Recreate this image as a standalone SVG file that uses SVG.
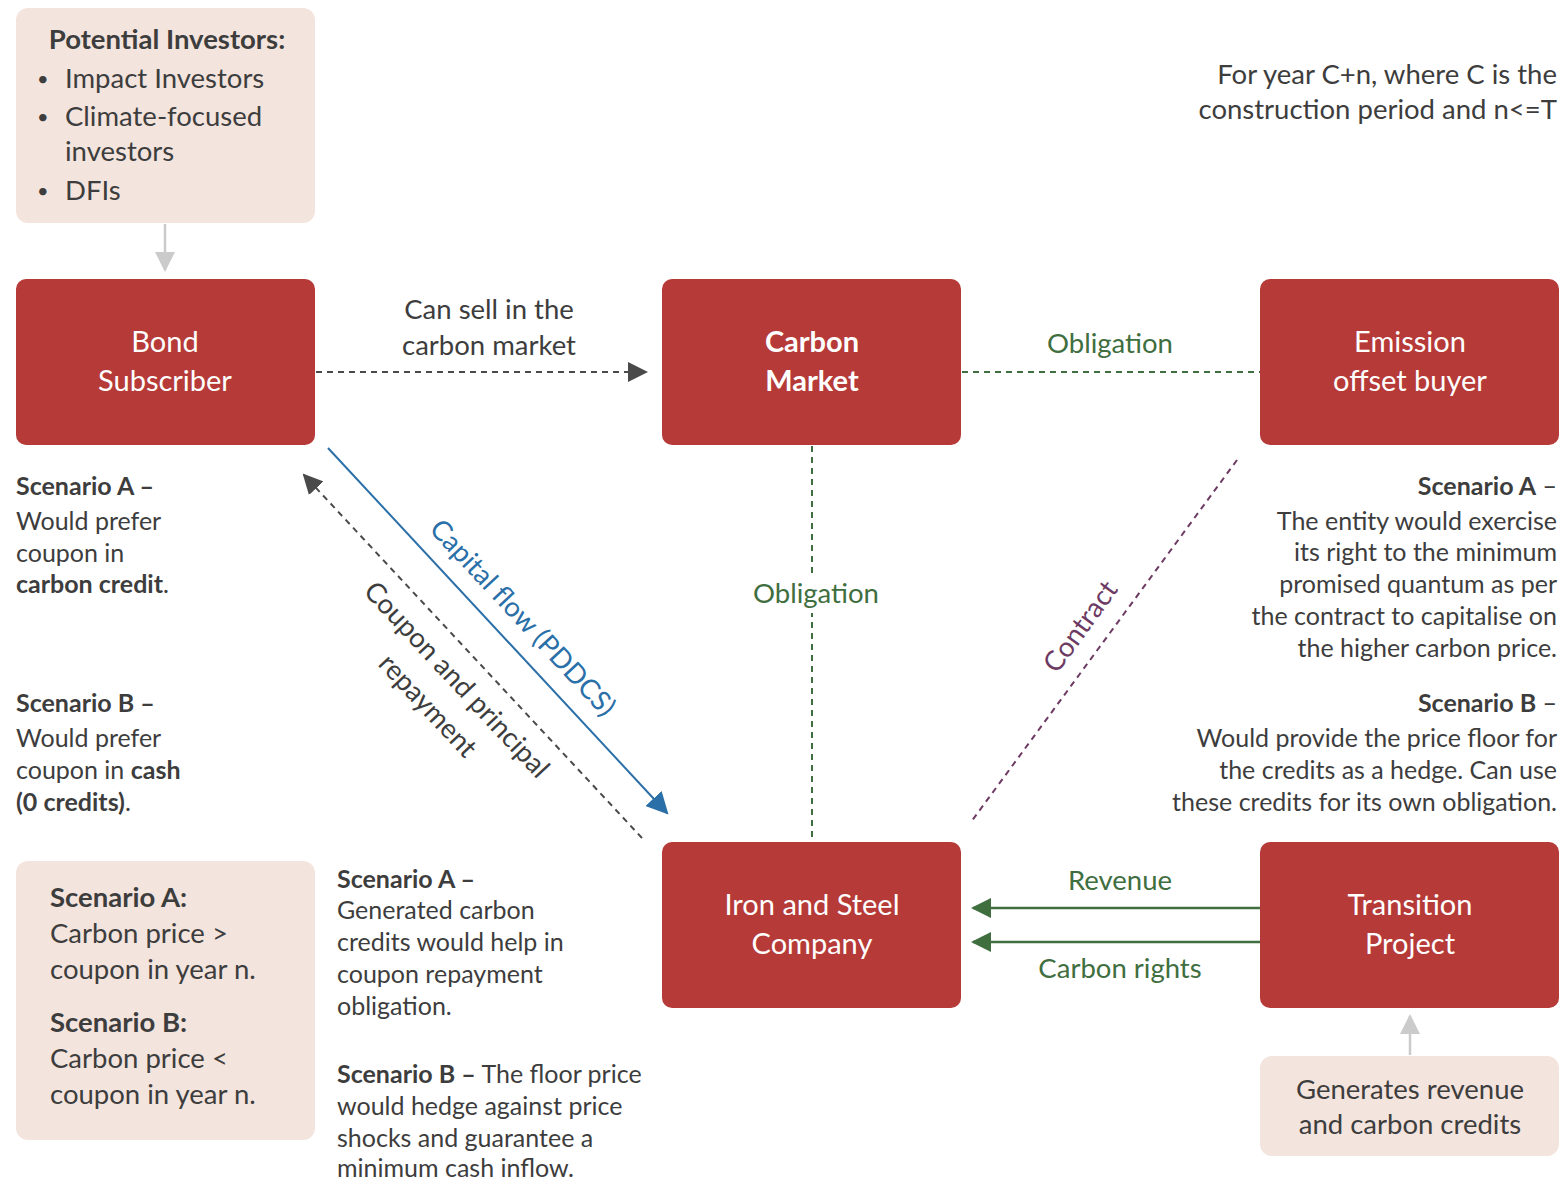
<svg xmlns="http://www.w3.org/2000/svg" width="1561" height="1179" viewBox="0 0 1561 1179">
<defs>
<style>
text{font-family:Lato,"Open Sans","Liberation Sans",sans-serif;fill:#3d3d3d}
.node{fill:#b53a38}
.note{fill:#f3e4de}
.nt{fill:#fff;font-size:29px;text-anchor:middle}
.b{font-weight:700}
.t27{font-size:27.5px}
.t25{font-size:25px}
.grn{fill:#3f6e3f}
.bul{font-size:20px}
</style>
<marker id="ag" viewBox="0 0 10 10" refX="9" refY="5" markerWidth="20" markerHeight="20" markerUnits="userSpaceOnUse" orient="auto"><path d="M0,0L10,5L0,10z" fill="#cbcbcb"/></marker>
<marker id="ad" viewBox="0 0 10 10" refX="9" refY="5" markerWidth="20" markerHeight="20" markerUnits="userSpaceOnUse" orient="auto"><path d="M0,0L10,5L0,10z" fill="#4a4a4a"/></marker>
<marker id="ab" viewBox="0 0 10 10" refX="9" refY="5" markerWidth="22" markerHeight="22" markerUnits="userSpaceOnUse" orient="auto"><path d="M0,0L10,5L0,10z" fill="#2a6fa8"/></marker>
<marker id="agr" viewBox="0 0 10 10" refX="9" refY="5" markerWidth="20" markerHeight="20" markerUnits="userSpaceOnUse" orient="auto"><path d="M0,0L10,5L0,10z" fill="#3f6e3f"/></marker>
</defs>
<rect width="1561" height="1179" fill="#fff"/>

<g id="connectors" fill="none">
<line x1="165" y1="224" x2="165" y2="270" stroke="#cbcbcb" stroke-width="2.5" marker-end="url(#ag)"/>
<line x1="316" y1="372" x2="646" y2="372" stroke="#4a4a4a" stroke-width="2" stroke-dasharray="6,5" marker-end="url(#ad)"/>
<line x1="962" y1="372" x2="1260" y2="372" stroke="#3f6e3f" stroke-width="2" stroke-dasharray="6,5"/>
<line x1="812" y1="446" x2="812" y2="842" stroke="#3f6e3f" stroke-width="2" stroke-dasharray="6,5"/>
<line x1="1237" y1="460" x2="971" y2="822" stroke="#6d3a63" stroke-width="2" stroke-dasharray="6,5"/>
<line x1="328" y1="448" x2="667" y2="813" stroke="#2a6fa8" stroke-width="2" marker-end="url(#ab)"/>
<line x1="642" y1="838" x2="304" y2="475" stroke="#4a4a4a" stroke-width="2" stroke-dasharray="6,5" marker-end="url(#ad)"/>
<line x1="1260" y1="908" x2="973" y2="908" stroke="#3f6e3f" stroke-width="2.5" marker-end="url(#agr)"/>
<line x1="1260" y1="942" x2="973" y2="942" stroke="#3f6e3f" stroke-width="2.5" marker-end="url(#agr)"/>
<line x1="1410" y1="1055" x2="1410" y2="1016" stroke="#cbcbcb" stroke-width="2.5" marker-end="url(#ag)"/>
<rect x="750" y="573" width="132" height="40" fill="#fff"/>
<text x="816" y="603" class="t27 grn" text-anchor="middle">Obligation</text>
<text x="489" y="319" class="t27" text-anchor="middle">Can sell in the</text>
<text x="489" y="355" class="t27" text-anchor="middle">carbon market</text>
<text x="1110" y="353" class="t27 grn" text-anchor="middle">Obligation</text>
<text transform="translate(516,624) rotate(47)" class="t27" text-anchor="middle" style="fill:#2a6fa8">Capital flow (PDDCS)</text>
<text transform="translate(450,686) rotate(47)" class="t27" text-anchor="middle">Coupon and principal</text>
<text transform="translate(421,712) rotate(47)" class="t27" text-anchor="middle">repayment</text>
<text transform="translate(1088,632) rotate(-54)" class="t27" text-anchor="middle" style="fill:#6d3a63">Contract</text>
<text x="1120" y="890" class="t27 grn" text-anchor="middle">Revenue</text>
<text x="1120" y="978" class="t27 grn" text-anchor="middle">Carbon rights</text>
</g>

<g id="investors">
<rect x="16" y="8" width="299" height="215" rx="12" class="note"/>
<text x="167" y="49" class="t27 b" text-anchor="middle">Potential Investors:</text>
<g class="t27">
<text x="37" y="86" class="bul">•</text><text x="65" y="88">Impact Investors</text>
<text x="37" y="124" class="bul">•</text><text x="65" y="126">Climate-focused</text>
<text x="65" y="161">investors</text>
<text x="37" y="198" class="bul">•</text><text x="65" y="200">DFIs</text>
</g>
</g>

<g id="bond-subscriber">
<rect x="16" y="279" width="299" height="166" rx="10" class="node"/>
<text x="165" y="352" class="nt">Bond</text>
<text x="165" y="391" class="nt">Subscriber</text>
</g>

<g id="carbon-market">
<rect x="662" y="279" width="299" height="166" rx="10" class="node"/>
<text x="812" y="352" class="nt b">Carbon</text>
<text x="812" y="391" class="nt b">Market</text>
</g>

<g id="emission-offset-buyer">
<rect x="1260" y="279" width="299" height="166" rx="10" class="node"/>
<text x="1410" y="352" class="nt">Emission</text>
<text x="1410" y="391" class="nt">offset buyer</text>
</g>

<g id="iron-steel">
<rect x="662" y="842" width="299" height="166" rx="10" class="node"/>
<text x="812" y="915" class="nt">Iron and Steel</text>
<text x="812" y="954" class="nt">Company</text>
</g>

<g id="transition-project">
<rect x="1260" y="842" width="299" height="166" rx="10" class="node"/>
<text x="1410" y="915" class="nt">Transition</text>
<text x="1410" y="954" class="nt">Project</text>
</g>

<g id="generates">
<rect x="1260" y="1056" width="299" height="100" rx="12" class="note"/>
<text x="1410" y="1099" class="t27" text-anchor="middle">Generates revenue</text>
<text x="1410" y="1134" class="t27" text-anchor="middle">and carbon credits</text>
</g>

<g id="scenario-box">
<rect x="16" y="861" width="299" height="279" rx="12" class="note"/>
<g class="t27">
<text x="50" y="907" class="b">Scenario A:</text>
<text x="50" y="943">Carbon price &gt;</text>
<text x="50" y="979">coupon in year n.</text>
<text x="50" y="1032" class="b">Scenario B:</text>
<text x="50" y="1068">Carbon price &lt;</text>
<text x="50" y="1104">coupon in year n.</text>
</g>
</g>

<g id="year-note" class="t27" text-anchor="end">
<text x="1557" y="84">For year C+n, where C is the</text>
<text x="1557" y="119">construction period and n&lt;=T</text>
</g>

<g id="bond-scenarios" class="t25">
<text x="16" y="495" class="b">Scenario A –</text>
<text x="16" y="530">Would prefer</text>
<text x="16" y="562">coupon in</text>
<text x="16" y="593"><tspan class="b">carbon credit</tspan>.</text>
<text x="16" y="712" class="b">Scenario B –</text>
<text x="16" y="747">Would prefer</text>
<text x="16" y="779">coupon in <tspan class="b">cash</tspan></text>
<text x="16" y="811"><tspan class="b">(0 credits)</tspan>.</text>
</g>

<g id="company-scenarios" class="t25">
<text x="337" y="888" class="b">Scenario A –</text>
<text x="337" y="919">Generated carbon</text>
<text x="337" y="951">credits would help in</text>
<text x="337" y="983">coupon repayment</text>
<text x="337" y="1015">obligation.</text>
<text x="337" y="1083"><tspan class="b">Scenario B –</tspan> The floor price</text>
<text x="337" y="1115">would hedge against price</text>
<text x="337" y="1147">shocks and guarantee a</text>
<text x="337" y="1177">minimum cash inflow.</text>
</g>

<g id="buyer-scenarios" class="t25" text-anchor="end">
<text x="1557" y="495"><tspan class="b">Scenario A</tspan> –</text>
<text x="1557" y="530">The entity would exercise</text>
<text x="1557" y="561">its right to the minimum</text>
<text x="1557" y="593">promised quantum as per</text>
<text x="1557" y="625">the contract to capitalise on</text>
<text x="1557" y="657">the higher carbon price.</text>
<text x="1557" y="712"><tspan class="b">Scenario B</tspan> –</text>
<text x="1557" y="747">Would provide the price floor for</text>
<text x="1557" y="779">the credits as a hedge. Can use</text>
<text x="1557" y="811">these credits for its own obligation.</text>
</g>
</svg>
